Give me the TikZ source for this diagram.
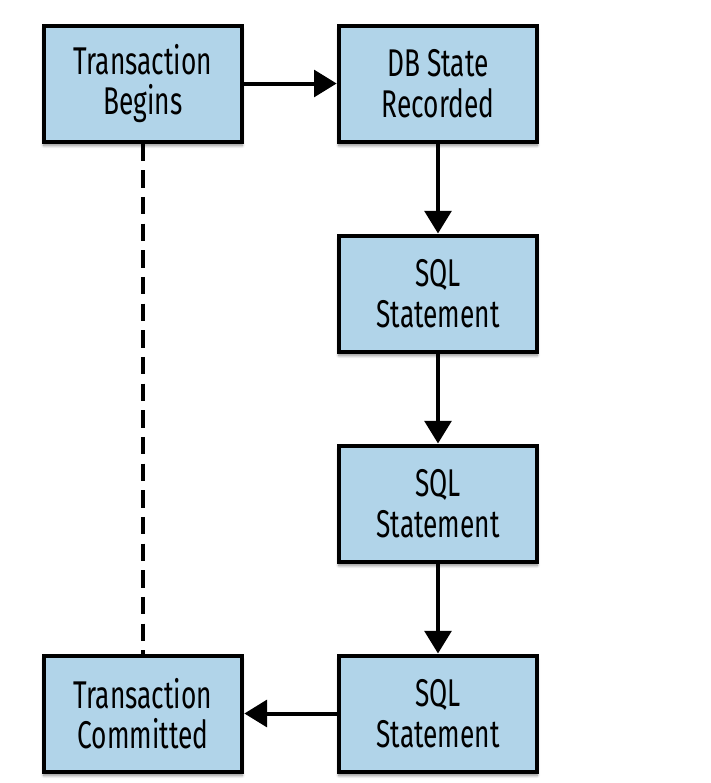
\documentclass[tikz,border=0pt]{standalone}
\usepackage{fontspec}
\setmainfont[FakeStretch=0.68]{Fira Sans}
\usepackage{tikz}
\usetikzlibrary{arrows.meta, positioning, shadows.blur}
\definecolor{txblue}{RGB}{177,212,233}

\tikzset{
  stepbox/.style={draw, line width=3pt, fill=txblue, minimum width=149pt,
    minimum height=87pt, align=center, font=\fontsize{29}{30.5}\selectfont,
    blur shadow={shadow xshift=0pt, shadow yshift=-3pt, shadow blur steps=6, shadow opacity=45}},
  flow/.style={line width=3pt, -{Triangle[length=17pt,width=20pt]}},
  link/.style={line width=3pt, dash pattern=on 13pt off 7pt}
}

\begin{document}
\begin{tikzpicture}[x=0.75pt,y=-0.75pt]
\useasboundingbox (0,0) rectangle (711,783);
% Left column
\node[stepbox] (begin) at (143,83.5) {Transaction\\Begins};
\node[stepbox] (commit) at (143,713.5) {Transaction\\Committed};

% Right column
\node[stepbox] (state) at (438,83.5) {DB State\\Recorded};
\node[stepbox] (sqla) at (438,293.5) {SQL\\Statement};
\node[stepbox] (sqlb) at (438,503.5) {SQL\\Statement};
\node[stepbox] (sqlc) at (438,713.5) {SQL\\Statement};

% Arrows
\draw[flow] (begin) -- (state);
\draw[flow] (state) -- (sqla);
\draw[flow] (sqla) -- (sqlb);
\draw[flow] (sqlb) -- (sqlc);
\draw[flow] (sqlc) -- (commit);
\draw[link] (begin) -- (commit);
\end{tikzpicture}
\end{document}
